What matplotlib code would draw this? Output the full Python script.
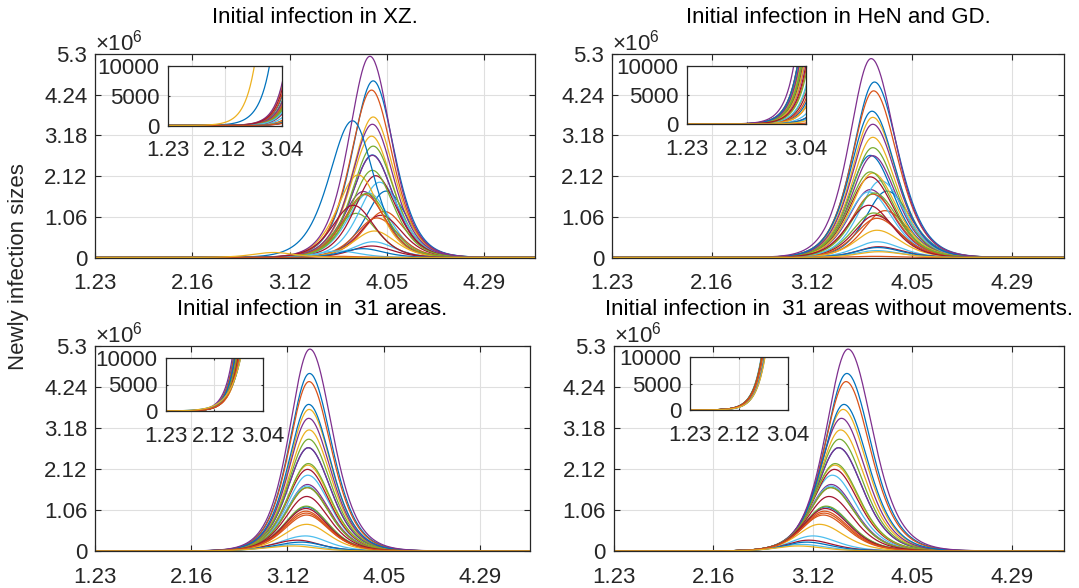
import numpy as np
import matplotlib
matplotlib.use("Agg")
from matplotlib import pyplot as plt
from matplotlib.transforms import offset_copy

plt.rcParams['font.family'] = ['Liberation Sans', 'DejaVu Sans']
plt.rcParams['font.size'] = 16
plt.rcParams['mathtext.fontset'] = 'custom'
plt.rcParams['mathtext.rm'] = 'Liberation Sans'
plt.rcParams['mathtext.it'] = 'Liberation Sans:italic'

# MATLAB default colour order, cycled over the 31 areas
colors = ['#0072BD', '#D95319', '#EDB120', '#7E2F8E', '#77AC30', '#4DBEEE', '#A2142F']

# x axis: days since 1.23
main_ticks = [0, 24, 48, 72, 96]
main_labels = ['1.23', '2.16', '3.12', '4.05', '4.29']
inset_ticks = [0, 20, 40]
inset_labels = ['1.23', '2.12', '3.04']
y_ticks = [0, 1.06, 2.12, 3.18, 4.24, 5.3]
y_labels = ['0', '1.06', '2.12', '3.18', '4.24', '5.3']
inset_y_ticks = [0, 5000, 10000]

titles = ['Initial infection in XZ.', 'Initial infection in HeN and GD.',
          'Initial infection in  31 areas.', 'Initial infection in  31 areas without movements.']

# peak of newly infected (x10^6), read per curve
peak_xz = [1.73, 1.20, 3.66, 1.72, 1.15, 1.68, 1.10, 2.67, 1.03, 3.16, 2.66, 2.90, 1.96, 2.13, 4.60, 4.36,
           2.15, 3.47, 2.27, 0.41, 0.30, 3.56, 1.64, 0.69, 5.24, 1.67, 0.17, 1.36, 0.23, 0.03, 0.13]
peak_hg = [1.73, 1.22, 3.65, 1.77, 1.16, 1.71, 1.10, 2.66, 1.02, 3.13, 2.65, 2.86, 2.00, 2.10, 4.57, 4.34,
           2.20, 3.47, 2.23, 0.41, 0.28, 3.81, 1.65, 0.71, 5.18, 1.68, 0.18, 1.36, 0.26, 0.03, 0.15]
peak_all = [1.14, 1.03, 3.66, 1.72, 1.16, 1.68, 1.10, 2.67, 0.93, 3.13, 2.67, 2.89, 1.96, 2.11, 4.59, 4.38,
            2.22, 3.43, 2.26, 0.39, 0.28, 3.79, 1.64, 0.69, 5.22, 1.64, 0.17, 1.41, 0.23, 0.98, 0.13]
peak_nomove = [1.14, 1.03, 3.66, 1.72, 1.16, 1.68, 1.10, 2.67, 0.93, 3.13, 2.67, 2.89, 1.96, 2.11, 4.59, 4.38,
               2.22, 3.43, 2.26, 0.39, 0.28, 3.79, 1.64, 0.69, 5.22, 1.64, 0.17, 1.41, 0.23, 0.98, 0.13]

# day of the peak
day_xz = [71.8, 71.3, 68.6, 66.2, 64.4, 67.5, 70.5, 68.4, 69.5, 68.2, 68.4, 68.6, 70.2, 69.2, 68.6, 68.2,
          64.9, 68.4, 68.4, 68.6, 68.2, 63.5, 66.5, 68.9, 67.8, 67.0, 60.0, 63.7, 66.0, 60.0, 44.0]
day_hg = [66.0, 65.5, 62.6, 62.0, 62.8, 61.6, 63.2, 62.0, 63.6, 62.6, 62.6, 62.6, 64.5, 62.0, 63.0, 62.8,
          62.6, 62.6, 62.0, 63.6, 64.0, 62.4, 62.6, 63.6, 62.2, 63.0, 63.5, 61.6, 63.8, 63.0, 64.0]
day_all = [52.7, 52.6, 53.4, 53.0, 52.7, 52.8, 52.6, 53.2, 52.8, 53.4, 53.2, 53.3, 53.1, 53.0, 53.5, 53.4,
           53.1, 53.3, 53.2, 52.5, 50.5, 53.3, 53.0, 52.8, 53.6, 52.9, 50.5, 52.8, 51.5, 52.7, 49.5]
day_nomove = [51.1, 50.8, 55.3, 52.4, 51.2, 52.3, 51.0, 54.2, 50.5, 54.7, 54.2, 54.4, 52.7, 53.2, 56.2, 56.0,
              53.3, 54.9, 53.4, 48.0, 47.0, 55.5, 52.3, 49.6, 56.5, 52.3, 45.3, 51.9, 46.5, 50.7, 44.5]

# day the curve passes 10000 in the inset (None = default rise)
cross_xz = [None, None, None, None, None, None, None, None, None, None, None, None, None, None, None, None,
            None, None, None, None, None, 35.8, None, None, None, None, None, None, None, None, None]
cross_hg = [None] * 31
cross_all = [30.0, 30.3, 28.6, 29.6, 30.0, 29.7, 30.1, 29.0, 30.4, 28.8, 29.0, 28.9, 29.4, 29.3, 28.0, 28.1,
             29.2, 28.7, 29.2, 30.8, 30.6, 28.5, 29.6, 30.6, 27.5, 29.7, 30.9, 29.9, 30.9, 30.2, 31.0]
cross_nomove = [None] * 31

# rise / decay time scales (days)
rise_default = [6.9, 6.9, 6.8, 7.1]
decay = [7.0, 7.7, 7.5, 7.9]

FIG_W, FIG_H = 1079, 588


def rect(x0, y0, x1, y1):
    return [x0 / FIG_W, 1 - y1 / FIG_H, (x1 - x0) / FIG_W, (y1 - y0) / FIG_H]


main_boxes = [rect(95, 54, 535, 257.5), rect(612, 54, 1064, 257.5),
              rect(95, 346, 530, 551), rect(613.5, 346, 1064, 551)]
inset_boxes = [rect(167.5, 65.5, 281.5, 125.5), rect(687, 66, 806, 124),
               rect(165.5, 358, 262.5, 411), rect(690, 357, 788, 410)]


def epi_curve(t, peak, t0, cross, w_rise, w_decay):
    p = peak * 1e6
    if cross is not None:
        w_rise = (t0 - cross) / np.arccosh(np.sqrt(p / 1e4))
    w = np.where(t < t0, w_rise, w_decay)
    return p / np.cosh((t - t0) / w) ** 2


def style(ax, size, pad_x, pad_y):
    for s in ax.spines.values():
        s.set_color('#262626')
        s.set_linewidth(0.9)
    ax.tick_params(direction='in', top=True, right=True, length=size, width=0.8,
                   colors='#262626', labelsize=16)
    ax.tick_params(axis='x', pad=pad_x)
    ax.tick_params(axis='y', pad=pad_y)
    ax.grid(True, color='#dfdfdf', linewidth=0.8)
    ax.set_axisbelow(True)


def main():
    t = np.arange(0, 109, 0.2)
    peaks = [peak_xz, peak_hg, peak_all, peak_nomove]
    days = [day_xz, day_hg, day_all, day_nomove]
    crosses = [cross_xz, cross_hg, cross_all, cross_nomove]

    fig = plt.figure(figsize=(FIG_W / 100, FIG_H / 100), dpi=100)

    for k in range(4):
        ax = fig.add_axes(main_boxes[k])
        ins = fig.add_axes(inset_boxes[k])
        for i in range(31):
            y = epi_curve(t, peaks[k][i], days[k][i], crosses[k][i], rise_default[k], decay[k])
            c = colors[i % 7]
            ax.plot(t, y, color=c, linewidth=0.9)
            ins.plot(t, y, color=c, linewidth=0.9)

        ax.set_xlim(0, 108.5)
        ax.set_ylim(0, 5.3e6)
        ax.set_xticks(main_ticks)
        ax.set_xticklabels(main_labels)
        ax.set_yticks([v * 1e6 for v in y_ticks])
        ax.set_yticklabels(y_labels)
        style(ax, 4, 11.5, 5.5)
        ax.set_title(titles[k], fontsize=16, pad=22.5)
        exp_tr = offset_copy(ax.transAxes, fig=fig, x=0, y=4, units='dots')
        ax.text(0, 1, r'$\times10^{6}$', fontsize=16, color='#262626',
                ha='left', va='baseline', transform=exp_tr)

        ins.set_facecolor('white')
        ins.set_xlim(0, 40)
        ins.set_ylim(0, 10000)
        ins.set_xticks(inset_ticks)
        ins.set_xticklabels(inset_labels)
        ins.set_yticks(inset_y_ticks)
        style(ins, 1.5, 10.5, 6)

    fig.text(19 / FIG_W, 1 - 267 / FIG_H, 'Newly infection sizes', rotation=90,
             ha='center', va='center', fontsize=16, color='#262626')

    fig.savefig('out.png', dpi=100)


if __name__ == "__main__":
    main()
